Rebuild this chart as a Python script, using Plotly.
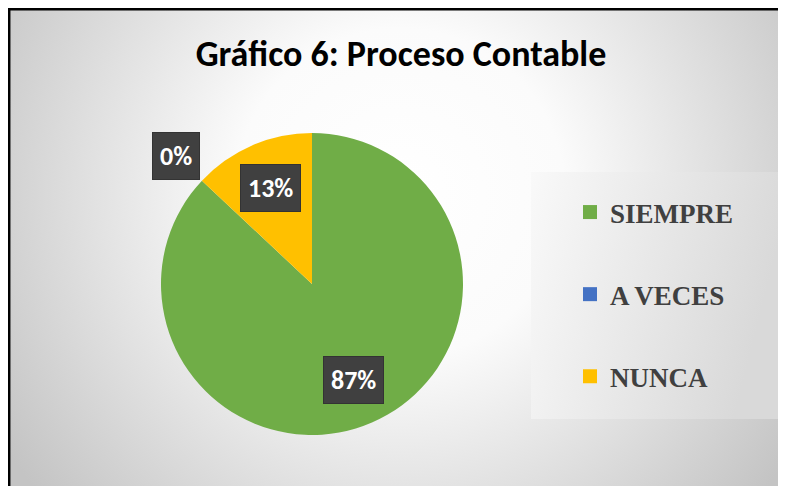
import math
import urllib.parse
import plotly.graph_objects as go

# ---- data ----
categories = ["SIEMPRE", "A VECES", "NUNCA"]
values = [87, 0, 13]
colors = ["#70AD47", "#4472C4", "#FFC000"]
title_text = "Gráfico 6: Proceso Contable"

OFF = 8  # page body margin: screen px -> figure px
W, H = 786 - OFF, 486 - OFF


def fx(sx):
    return (sx - OFF) / W


def fy(sy):
    return 1 - (sy - OFF) / H


# pie box in screen pixels (layout)
PX0, PX1 = 161, 463
PY0, PY1 = 133, 435  # top, bottom

# background (gradient) drawn as svg image, figure pixel coords
svg = f"""<svg xmlns='http://www.w3.org/2000/svg' width='{W}' height='{H}' viewBox='0 0 {W} {H}' preserveAspectRatio='none'>
<defs>
<radialGradient id='bg' cx='392' cy='185' r='470' gradientUnits='userSpaceOnUse'>
<stop offset='0' stop-color='#ffffff'/>
<stop offset='0.35' stop-color='#fbfbfb'/>
<stop offset='1' stop-color='#c4c4c4'/>
</radialGradient>
<linearGradient id='lg' x1='0' y1='0' x2='1' y2='0.25'>
<stop offset='0' stop-color='#f9f9f9'/>
<stop offset='1' stop-color='#d9d9d9'/>
</linearGradient>
</defs>
<rect x='0' y='0' width='{W}' height='{H}' fill='url(#bg)'/>
<rect x='{531-OFF}' y='{172-OFF}' width='250' height='247' fill='url(#lg)'/>
<line x1='0' y1='1.2' x2='{W}' y2='1.2' stroke='#000000' stroke-width='2.5'/>
<line x1='1.2' y1='0' x2='1.2' y2='{H}' stroke='#000000' stroke-width='2.5'/>
</svg>"""
svg_uri = "data:image/svg+xml;charset=utf-8," + urllib.parse.quote(svg)

fig = go.Figure()

fig.add_trace(go.Pie(
    labels=categories,
    values=values,
    marker=dict(colors=colors, line=dict(width=0)),
    sort=False,
    direction="clockwise",
    rotation=0,
    textinfo="none",
    hoverinfo="label+percent",
    showlegend=False,
    domain=dict(x=[fx(PX0), fx(PX1)], y=[fy(PY1), fy(PY0)]),
))

# legend entries via dummy traces (for spacing)
for lab, col in zip(categories, colors):
    fig.add_trace(go.Scatter(
        x=[None], y=[None], mode="markers",
        marker=dict(symbol="square", size=14, color=col),
        name=lab, legendgroup=lab, showlegend=True, hoverinfo="skip",
    ))

# data labels computed from values
total = sum(values)
cx = (PX0 + PX1) / 2
cy = (PY0 + PY1) / 2
R = (PX1 - PX0) / 2
label_font = "Carlito, Lato, sans-serif"
annotations = []
cum = 0.0
for lab, v in zip(categories, values):
    frac = v / total
    mid = (cum + frac / 2) * 2 * math.pi
    cum += frac
    rf = 0.69 if v > 0 else 1.24
    px = cx + rf * R * math.sin(mid)
    py = cy - rf * R * math.cos(mid)
    txt = f"{round(frac * 100)}%"
    annotations.append(dict(
        x=fx(px), y=fy(py), xref="paper", yref="paper",
        xanchor="center", yanchor="middle",
        text=txt, showarrow=False, bgcolor="#404040",
        bordercolor="#333333", borderwidth=1,
        borderpad=7, font=dict(family=label_font, size=26, color="#ffffff", weight="bold"),
    ))

fig.update_layout(
    width=W, height=H,
    margin=dict(l=0, r=0, t=0, b=0),
    paper_bgcolor="#ffffff",
    plot_bgcolor="rgba(0,0,0,0)",
    title=dict(text=title_text, x=fx(401), xanchor="center", y=fy(53), yanchor="middle",
               font=dict(family="Carlito, Lato, sans-serif", size=36, color="#000000", weight="bold")),
    xaxis=dict(visible=False),
    yaxis=dict(visible=False),
    legend=dict(
        x=fx(570), xanchor="left", y=fy(188), yanchor="top",
        bgcolor="rgba(0,0,0,0)",
        font=dict(family="Liberation Serif", size=27, color="#404040", weight="bold"),
        tracegroupgap=44, traceorder="grouped",
    ),
    images=[dict(source=svg_uri, xref="paper", yref="paper", x=0, y=1, sizex=1, sizey=1,
                 sizing="stretch", layer="below", xanchor="left", yanchor="top")],
    annotations=annotations,
)

fig.write_html("out.html")
